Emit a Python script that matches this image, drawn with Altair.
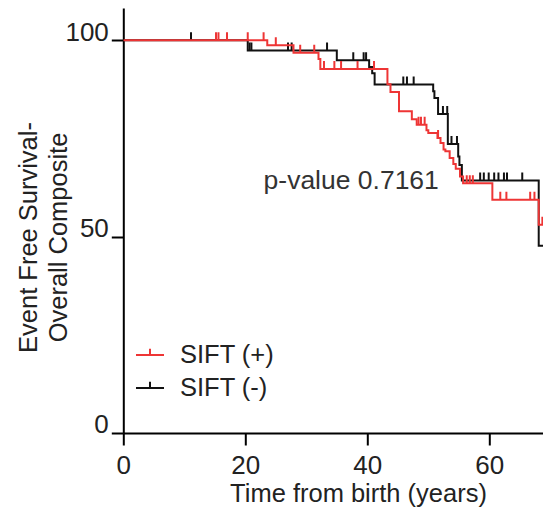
import altair as alt
import pandas as pd
import numpy as np

FONT = "Liberation Sans"
RED = "#ee3535"
BLACK = "#111111"

# Kaplan-Meier step curves (time of drop, survival after drop)
red_times = [0, 23.6, 27.9, 32.0, 32.3, 43.3, 43.8, 45.2, 47.3, 48.1, 49.7, 50.0, 51.5, 52.0,
             52.5, 52.8, 53.5, 54.1, 54.5, 55.2, 55.7, 60.5, 68.1, 70.0]
red_surv = [100, 98.7, 96.8, 95.2, 92.7, 88.8, 86.8, 81.9, 79.9, 78.5, 77.1, 76.4, 75.1, 73.8,
            72.2, 71.7, 70.0, 68.5, 67.3, 65.3, 63.6, 59.4, 53.0, 53.0]
black_times = [0, 20.4, 35.0, 40.3, 40.8, 41.2, 50.8, 51.0, 51.6, 53.2, 54.9, 55.1, 55.5, 68.1, 70.0]
black_surv = [100, 97.4, 94.9, 93.2, 91.6, 88.7, 87.0, 85.3, 81.2, 73.6, 70.4, 68.2, 64.3, 47.7, 47.7]

# censored observations (times)
red_cens = [15.2, 15.6, 17.0, 20.4, 23.0, 25.0, 29.0, 31.3, 32.9, 34.6, 35.7, 38.4, 41.1,
            48.4, 48.8, 49.4, 51.6, 56.3, 56.8, 57.3, 61.8, 62.8, 66.7, 67.4, 68.7]
black_cens = [11.1, 20.7, 21.0, 27.0, 27.6, 33.4, 37.7, 39.4, 39.8, 45.9, 46.5, 47.6, 52.4,
              53.1, 53.8, 54.7, 58.5, 59.1, 59.9, 60.8, 61.5, 62.4, 62.9, 65.4]

groups = ["SIFT (+)", "SIFT (-)"]
x_ticks = [0, 20, 40, 60]
y_ticks = [0, 50, 100]
p_label = "p-value 0.7161"


def step_at(times, surv, t):
    i = int(np.searchsorted(times, t, side="right")) - 1
    return surv[i]


curves = pd.DataFrame(
    [{"group": groups[0], "time": t, "surv": s} for t, s in zip(red_times, red_surv)]
    + [{"group": groups[1], "time": t, "surv": s} for t, s in zip(black_times, black_surv)]
)
cens = pd.DataFrame(
    [{"group": groups[0], "time": t, "surv": step_at(red_times, red_surv, t)} for t in red_cens]
    + [{"group": groups[1], "time": t, "surv": step_at(black_times, black_surv, t)} for t in black_cens]
)
ptext = pd.DataFrame([{"time": 23.0, "surv": 62.0, "label": p_label}])

x_axis = alt.Axis(values=x_ticks, title="Time from birth (years)", labelBaseline="alphabetic",
                  labelPadding=28.7, labelFlush=False, titleX=234.7, titleY=68.5,
                  titleBaseline="alphabetic", titleAlign="center", titleAnchor="start")
y_axis = alt.Axis(values=y_ticks, title=["Event Free Survival-", "Overall  Composite"],
                  labelBaseline="alphabetic", labelPadding=3, labelFlush=False,
                  titleX=-94.3, titleY=229, titleAngle=270, titleAlign="center",
                  titleBaseline="middle", titleLineHeight=30, titleAnchor="start")

x_enc = alt.X("time:Q", scale=alt.Scale(domain=[0, 68.85], nice=False, zero=False), axis=x_axis)
y_enc = alt.Y("surv:Q", scale=alt.Scale(domain=[0, 108.2], nice=False), axis=y_axis)

legend = alt.Legend(title=None, orient="none", legendX=11.7, legendY=332,
                    symbolType="M-1,0L1,0M0,0L0,-0.45", symbolSize=784, symbolStrokeWidth=2,
                    labelFontSize=25.5, labelFont=FONT, labelColor="#222222", labelOffset=15,
                    rowPadding=4, padding=0)
color = alt.Color("group:N", scale=alt.Scale(domain=groups, range=[RED, BLACK]), legend=legend)


def curve(g):
    return (alt.Chart(curves).transform_filter(alt.datum.group == g)
            .mark_line(interpolate="step-after", strokeWidth=2, clip=True)
            .encode(x=x_enc, y=y_enc, color=color))


def ticks(g):
    return (alt.Chart(cens).transform_filter(alt.datum.group == g)
            .mark_rule(strokeWidth=2, y2Offset=-8, clip=True)
            .encode(x=x_enc, y=y_enc, y2=alt.Y2("surv:Q"), color=color))


text = alt.Chart(ptext).mark_text(align="left", baseline="alphabetic", fontSize=26.5, font=FONT,
                                  color="#333333").encode(x=x_enc, y=y_enc, text="label:N")

chart = alt.layer(curve(groups[1]), ticks(groups[1]), curve(groups[0]), ticks(groups[0]), text).properties(
    width=420, height=425,
    autosize=alt.AutoSizeParams(type="none"),
    padding={"left": 115.3, "top": 0, "right": 0, "bottom": 75},
).configure_view(stroke=None).configure_axis(
    domainColor="#000000", tickColor="#000000", domainWidth=2, tickWidth=2, tickSize=12,
    labelFont=FONT, titleFont=FONT, labelFontSize=26, titleFontSize=25.5, titleFontWeight="normal",
    labelColor="#222222", titleColor="#222222", grid=False,
)

chart.save("out.html", embed_options={"renderer": "svg", "actions": False})
